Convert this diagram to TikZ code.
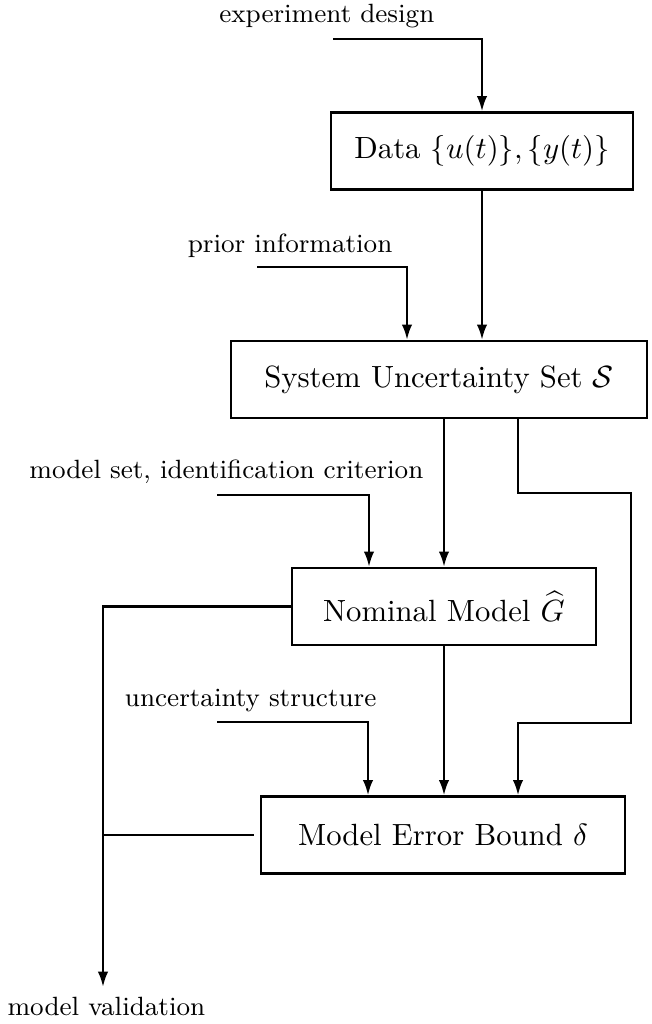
\documentclass[tikz,border=0pt]{standalone}
\usepackage{amsmath, amssymb}
\usepackage{tikz}
\usetikzlibrary{arrows.meta, positioning}

\tikzset{
    block/.style={draw, line width=0.8pt, inner sep=0pt, minimum height=25pt},
    inlabel/.style={font=\fontsize{8.6}{10}\selectfont, inner sep=0pt},
    conn/.style={line width=0.8pt}
}

\begin{document}
\begin{tikzpicture}[>={Latex[length=5pt,width=3.4pt]}, x=0.3257pt, y=-0.3257pt]
    \useasboundingbox (0,0) rectangle (652,1024);

    % Cac khoi
    \node[block, minimum width=98.4pt] (data) at (482,151) {Data $\{u(t)\},\{y(t)\}$};
    \node[block, minimum width=135.5pt] (sys) at (439,379.5) {System Uncertainty Set $\mathcal{S}$};
    \node[block, minimum width=99pt] (nom) at (444,606.5) {Nominal Model $\widehat{G}$};
    \node[block, minimum width=118.6pt] (err) at (443,835) {Model Error Bound $\delta$};

    % Nhan dau vao
    \node[inlabel, anchor=base east] (expd) at (435,23) {experiment design};
    \node[inlabel, anchor=base east] (prior) at (393,252) {prior information};
    \node[inlabel, anchor=base east] (mset) at (424,478) {model set, identification criterion};
    \node[inlabel, anchor=base east] (ustr) at (377,706) {uncertainty structure};
    \node[inlabel, anchor=base west] (mval) at (7,1015) {model validation};

    % Cac diem gap
    \coordinate (e0) at (333,39);
    \coordinate (p0) at (257,267);
    \coordinate (p1) at (407,267);
    \coordinate (m0) at (217,495);
    \coordinate (m1) at (369,495);
    \coordinate (u0) at (217,722);
    \coordinate (u1) at (368,722);
    \coordinate (r1) at (518,493);
    \coordinate (r2) at (631,723);
    \coordinate (vbot) at (103,987);

    % Mui ten
    \draw[conn, ->] (e0) -| (data.north);
    \draw[conn, ->] (p0) -- (p1) -- (p1 |- sys.north);
    \draw[conn, ->] (data) -- (data |- sys.north);
    \draw[conn, ->] (m0) -- (m1) -- (m1 |- nom.north);
    \draw[conn, ->] (sys.south -| nom) -- (nom);
    \draw[conn, ->] (r1 |- sys.south) -- (r1) -| (r2) -| (r1 |- err.north);
    \draw[conn, ->] (u0) -- (u1) -- (u1 |- err.north);
    \draw[conn, ->] (nom) -- (nom |- err.north);
    \draw[conn, ->] (nom.west) -| (vbot);
    \draw[conn, shorten <=2pt] (err.west) -- (err.west -| vbot);
\end{tikzpicture}
\end{document}
